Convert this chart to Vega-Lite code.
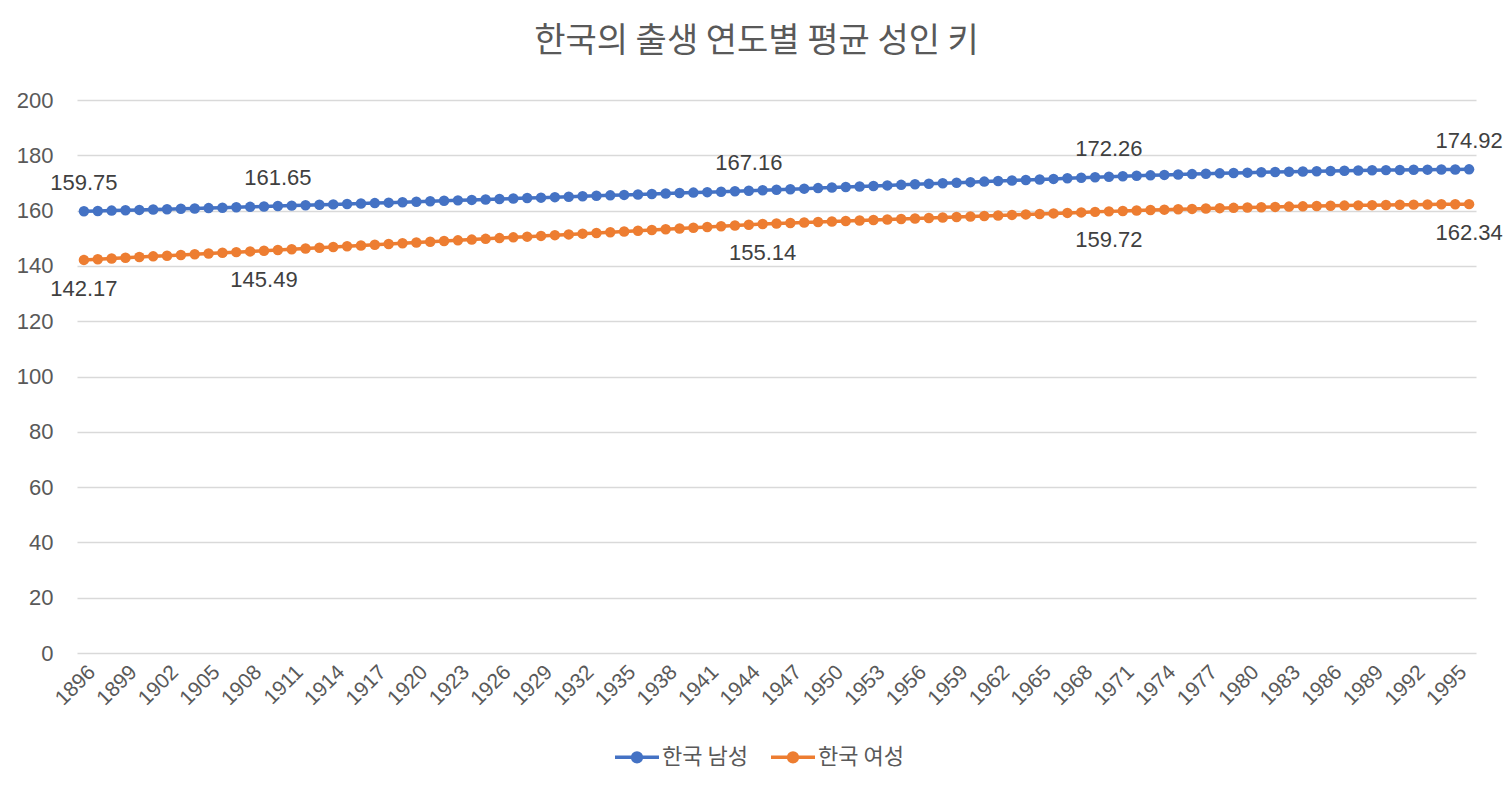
{
  "$schema": "https://vega.github.io/schema/vega-lite/v6.json",
  "width": 1399,
  "height": 553,
  "autosize": {"type": "none"},
  "padding": {"left": 77, "top": 100, "right": 36, "bottom": 141},
  "background": "white",
  "title": {
    "text": "한국의 출생 연도별 평균 성인 키",
    "font": "Noto Sans CJK KR",
    "fontSize": 34,
    "fontWeight": "normal",
    "color": "#595959",
    "anchor": "middle",
    "dx": -20,
    "offset": 30
  },
  "data": {
    "values": [
      {"year": 1896, "한국 남성": 159.75, "한국 여성": 142.17},
      {"year": 1897, "한국 남성": 159.87, "한국 여성": 142.43},
      {"year": 1898, "한국 남성": 160.00, "한국 여성": 142.68},
      {"year": 1899, "한국 남성": 160.12, "한국 여성": 142.94},
      {"year": 1900, "한국 남성": 160.25, "한국 여성": 143.19},
      {"year": 1901, "한국 남성": 160.38, "한국 여성": 143.45},
      {"year": 1902, "한국 남성": 160.51, "한국 여성": 143.70},
      {"year": 1903, "한국 남성": 160.64, "한국 여성": 143.96},
      {"year": 1904, "한국 남성": 160.78, "한국 여성": 144.22},
      {"year": 1905, "한국 남성": 160.91, "한국 여성": 144.47},
      {"year": 1906, "한국 남성": 161.05, "한국 여성": 144.73},
      {"year": 1907, "한국 남성": 161.20, "한국 여성": 144.98},
      {"year": 1908, "한국 남성": 161.35, "한국 여성": 145.24},
      {"year": 1909, "한국 남성": 161.50, "한국 여성": 145.49},
      {"year": 1910, "한국 남성": 161.65, "한국 여성": 145.76},
      {"year": 1911, "한국 남성": 161.80, "한국 여성": 146.03},
      {"year": 1912, "한국 남성": 161.95, "한국 여성": 146.30},
      {"year": 1913, "한국 남성": 162.10, "한국 여성": 146.56},
      {"year": 1914, "한국 남성": 162.25, "한국 여성": 146.83},
      {"year": 1915, "한국 남성": 162.40, "한국 여성": 147.10},
      {"year": 1916, "한국 남성": 162.55, "한국 여성": 147.37},
      {"year": 1917, "한국 남성": 162.71, "한국 여성": 147.64},
      {"year": 1918, "한국 남성": 162.88, "한국 여성": 147.90},
      {"year": 1919, "한국 남성": 163.04, "한국 여성": 148.17},
      {"year": 1920, "한국 남성": 163.21, "한국 여성": 148.44},
      {"year": 1921, "한국 남성": 163.37, "한국 여성": 148.71},
      {"year": 1922, "한국 남성": 163.54, "한국 여성": 148.98},
      {"year": 1923, "한국 남성": 163.70, "한국 여성": 149.24},
      {"year": 1924, "한국 남성": 163.87, "한국 여성": 149.51},
      {"year": 1925, "한국 남성": 164.03, "한국 여성": 149.78},
      {"year": 1926, "한국 남성": 164.20, "한국 여성": 150.05},
      {"year": 1927, "한국 남성": 164.36, "한국 여성": 150.32},
      {"year": 1928, "한국 남성": 164.53, "한국 여성": 150.58},
      {"year": 1929, "한국 남성": 164.69, "한국 여성": 150.85},
      {"year": 1930, "한국 남성": 164.86, "한국 여성": 151.12},
      {"year": 1931, "한국 남성": 165.02, "한국 여성": 151.39},
      {"year": 1932, "한국 남성": 165.19, "한국 여성": 151.66},
      {"year": 1933, "한국 남성": 165.35, "한국 여성": 151.92},
      {"year": 1934, "한국 남성": 165.52, "한국 여성": 152.19},
      {"year": 1935, "한국 남성": 165.68, "한국 여성": 152.46},
      {"year": 1936, "한국 남성": 165.85, "한국 여성": 152.73},
      {"year": 1937, "한국 남성": 166.01, "한국 여성": 153.00},
      {"year": 1938, "한국 남성": 166.18, "한국 여성": 153.26},
      {"year": 1939, "한국 남성": 166.34, "한국 여성": 153.53},
      {"year": 1940, "한국 남성": 166.51, "한국 여성": 153.80},
      {"year": 1941, "한국 남성": 166.67, "한국 여성": 154.07},
      {"year": 1942, "한국 남성": 166.84, "한국 여성": 154.34},
      {"year": 1943, "한국 남성": 167.00, "한국 여성": 154.60},
      {"year": 1944, "한국 남성": 167.16, "한국 여성": 154.87},
      {"year": 1945, "한국 남성": 167.36, "한국 여성": 155.14},
      {"year": 1946, "한국 남성": 167.55, "한국 여성": 155.32},
      {"year": 1947, "한국 남성": 167.75, "한국 여성": 155.51},
      {"year": 1948, "한국 남성": 167.94, "한국 여성": 155.69},
      {"year": 1949, "한국 남성": 168.14, "한국 여성": 155.87},
      {"year": 1950, "한국 남성": 168.33, "한국 여성": 156.06},
      {"year": 1951, "한국 남성": 168.53, "한국 여성": 156.24},
      {"year": 1952, "한국 남성": 168.72, "한국 여성": 156.42},
      {"year": 1953, "한국 남성": 168.92, "한국 여성": 156.61},
      {"year": 1954, "한국 남성": 169.12, "한국 여성": 156.79},
      {"year": 1955, "한국 남성": 169.31, "한국 여성": 156.97},
      {"year": 1956, "한국 남성": 169.51, "한국 여성": 157.15},
      {"year": 1957, "한국 남성": 169.70, "한국 여성": 157.34},
      {"year": 1958, "한국 남성": 169.90, "한국 여성": 157.52},
      {"year": 1959, "한국 남성": 170.10, "한국 여성": 157.70},
      {"year": 1960, "한국 남성": 170.29, "한국 여성": 157.89},
      {"year": 1961, "한국 남성": 170.49, "한국 여성": 158.07},
      {"year": 1962, "한국 남성": 170.68, "한국 여성": 158.25},
      {"year": 1963, "한국 남성": 170.88, "한국 여성": 158.44},
      {"year": 1964, "한국 남성": 171.08, "한국 여성": 158.62},
      {"year": 1965, "한국 남성": 171.27, "한국 여성": 158.80},
      {"year": 1966, "한국 남성": 171.47, "한국 여성": 158.99},
      {"year": 1967, "한국 남성": 171.67, "한국 여성": 159.17},
      {"year": 1968, "한국 남성": 171.86, "한국 여성": 159.35},
      {"year": 1969, "한국 남성": 172.06, "한국 여성": 159.54},
      {"year": 1970, "한국 남성": 172.26, "한국 여성": 159.72},
      {"year": 1971, "한국 남성": 172.43, "한국 여성": 159.88},
      {"year": 1972, "한국 남성": 172.60, "한국 여성": 160.04},
      {"year": 1973, "한국 남성": 172.75, "한국 여성": 160.19},
      {"year": 1974, "한국 남성": 172.91, "한국 여성": 160.34},
      {"year": 1975, "한국 남성": 173.06, "한국 여성": 160.48},
      {"year": 1976, "한국 남성": 173.20, "한국 여성": 160.62},
      {"year": 1977, "한국 남성": 173.34, "한국 여성": 160.75},
      {"year": 1978, "한국 남성": 173.47, "한국 여성": 160.88},
      {"year": 1979, "한국 남성": 173.60, "한국 여성": 161.00},
      {"year": 1980, "한국 남성": 173.72, "한국 여성": 161.12},
      {"year": 1981, "한국 남성": 173.84, "한국 여성": 161.23},
      {"year": 1982, "한국 남성": 173.95, "한국 여성": 161.34},
      {"year": 1983, "한국 남성": 174.05, "한국 여성": 161.44},
      {"year": 1984, "한국 남성": 174.15, "한국 여성": 161.54},
      {"year": 1985, "한국 남성": 174.25, "한국 여성": 161.64},
      {"year": 1986, "한국 남성": 174.34, "한국 여성": 161.73},
      {"year": 1987, "한국 남성": 174.42, "한국 여성": 161.81},
      {"year": 1988, "한국 남성": 174.50, "한국 여성": 161.89},
      {"year": 1989, "한국 남성": 174.57, "한국 여성": 161.97},
      {"year": 1990, "한국 남성": 174.64, "한국 여성": 162.04},
      {"year": 1991, "한국 남성": 174.70, "한국 여성": 162.10},
      {"year": 1992, "한국 남성": 174.76, "한국 여성": 162.16},
      {"year": 1993, "한국 남성": 174.81, "한국 여성": 162.22},
      {"year": 1994, "한국 남성": 174.85, "한국 여성": 162.27},
      {"year": 1995, "한국 남성": 174.89, "한국 여성": 162.31},
      {"year": 1996, "한국 남성": 174.92, "한국 여성": 162.34}
    ]
  },
  "transform": [
    {"fold": ["한국 남성", "한국 여성"], "as": ["sex", "height"]}
  ],
  "encoding": {
    "x": {
      "field": "year",
      "type": "ordinal",
      "scale": {"type": "point", "padding": 0.5},
      "axis": {
        "title": null,
        "values": [1896, 1899, 1902, 1905, 1908, 1911, 1914, 1917, 1920, 1923, 1926, 1929, 1932, 1935, 1938, 1941, 1944, 1947, 1950, 1953, 1956, 1959, 1962, 1965, 1968, 1971, 1974, 1977, 1980, 1983, 1986, 1989, 1992, 1995],
        "labelAngle": -45,
        "labelFont": "Liberation Sans",
        "labelFontSize": 21,
        "labelColor": "#595959",
        "labelPadding": 8,
        "ticks": false,
        "tickSize": 0,
        "domain": false,
        "grid": false
      }
    },
    "y": {
      "field": "height",
      "type": "quantitative",
      "scale": {"domain": [0, 200], "nice": false},
      "axis": {
        "title": null,
        "values": [0, 20, 40, 60, 80, 100, 120, 140, 160, 180, 200],
        "labelFont": "Liberation Sans",
        "labelFontSize": 22,
        "labelColor": "#595959",
        "labelPadding": 24,
        "ticks": false,
        "tickSize": 0,
        "domain": false,
        "gridColor": "#d9d9d9",
        "gridWidth": 1.5
      }
    },
    "color": {
      "field": "sex",
      "type": "nominal",
      "scale": {"domain": ["한국 남성", "한국 여성"], "range": ["#4472C4", "#ED7D31"]},
      "legend": {
        "title": null,
        "orient": "none",
        "legendX": 536,
        "legendY": 633,
        "direction": "horizontal",
        "symbolType": "M-1,0H1M0.2,0A0.2,0.2 0 1 1 -0.2,0A0.2,0.2 0 1 1 0.2,0Z",
        "symbolSize": 1936,
        "symbolStrokeWidth": 3.5,
        "labelFont": "Noto Sans CJK KR",
        "labelFontSize": 22,
        "labelColor": "#595959",
        "labelOffset": 1,
        "columnPadding": 16,
        "encode": {
          "symbols": {
            "update": {
              "fill": {"scale": "color", "field": "value"},
              "stroke": {"scale": "color", "field": "value"},
              "opacity": {"value": 1}
            }
          }
        }
      }
    }
  },
  "layer": [
    {
      "mark": {"type": "line", "strokeWidth": 3.5}
    },
    {
      "mark": {"type": "point", "filled": true, "size": 110, "opacity": 1}
    },
    {
      "transform": [
        {"filter": "datum.sex == '한국 남성' && indexof([1896, 1910, 1944, 1970, 1996], datum.year) >= 0"}
      ],
      "mark": {"type": "text", "dy": -28, "font": "Liberation Sans", "fontSize": 22, "align": "center", "baseline": "middle"},
      "encoding": {
        "text": {"field": "height", "type": "quantitative", "format": ".2f"},
        "color": {"value": "#404040"}
      }
    },
    {
      "transform": [
        {"filter": "datum.sex == '한국 여성' && indexof([1896, 1909, 1945, 1970, 1996], datum.year) >= 0"}
      ],
      "mark": {"type": "text", "dy": 29, "font": "Liberation Sans", "fontSize": 22, "align": "center", "baseline": "middle"},
      "encoding": {
        "text": {"field": "height", "type": "quantitative", "format": ".2f"},
        "color": {"value": "#404040"}
      }
    }
  ],
  "config": {
    "view": {"stroke": null}
  }
}
